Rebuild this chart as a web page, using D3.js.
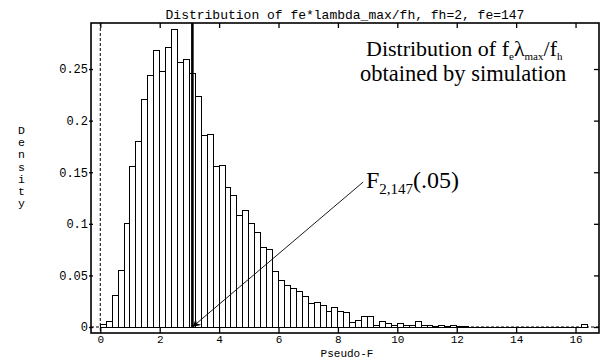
<!DOCTYPE html>
<html>
<head>
<meta charset="utf-8">
<script src="https://cdn.jsdelivr.net/npm/d3@7/dist/d3.min.js"></script>
<style>
  html, body { margin: 0; padding: 0; background: #fff; }
  svg { display: block; }
</style>
</head>
<body>
<script>
// ---- data ----
const binLefts = [
  0.0, 0.2, 0.4, 0.6, 0.8, 1.0, 1.2, 1.4, 1.6, 1.8,
  2.0, 2.2, 2.4, 2.6, 2.8, 3.0, 3.2, 3.4, 3.6, 3.8,
  4.0, 4.2, 4.4, 4.6, 4.8, 5.0, 5.2, 5.4, 5.6, 5.8,
  6.0, 6.2, 6.4, 6.6, 6.8, 7.0, 7.2, 7.4, 7.6, 7.8,
  8.0, 8.2, 8.4, 8.6, 8.8, 9.0, 9.2, 9.4, 9.6, 9.8,
  10.0, 10.2, 10.4, 10.6, 10.8, 11.0, 11.2, 11.4, 11.6, 11.8,
  12.0, 12.2, 12.4, 12.6, 12.8, 13.0, 13.2, 13.4, 13.6, 13.8,
  14.0, 14.2, 14.4, 14.6, 14.8, 15.0, 15.2, 15.4, 15.6, 15.8,
  16.0, 16.2
];
const binWidth = 0.2;
const density = [
  0.002, 0.005, 0.031, 0.055, 0.1005, 0.156, 0.1796, 0.220, 0.244, 0.268,
  0.2474, 0.2706, 0.2885, 0.256, 0.2594, 0.2458, 0.2229, 0.1854, 0.1866, 0.1555,
  0.1567, 0.1354, 0.127, 0.108, 0.1127, 0.1005, 0.0914, 0.0772, 0.0753, 0.054,
  0.0455, 0.0404, 0.037, 0.034, 0.030, 0.023, 0.024, 0.021, 0.015, 0.019,
  0.015, 0.014, 0.004, 0.006, 0.010, 0.010, 0.001, 0.005, 0.003, 0.001,
  0.003, 0.001, 0.001, 0.005, 0.0015, 0.001, 0.0005, 0.001, 0.0005, 0.001,
  0.0005, 0.0005, 0, 0, 0, 0, 0, 0, 0, 0,
  0, 0, 0, 0, 0, 0, 0, 0, 0, 0,
  0, 0.002
];
const xTicks = [0, 2, 4, 6, 8, 10, 12, 14, 16];
const yTicks = [0, 0.05, 0.1, 0.15, 0.2, 0.25];
const yTickLabels = ["0", "0.05", "0.1", "0.15", "0.2", "0.25"];
const criticalValue = 3.1;
const arrowTail = [8.85, 0.1405];
const titleText = "Distribution of fe*lambda_max/fh, fh=2, fe=147";
const xLabel = "Pseudo-F";
const yLabel = "Density";

// ---- layout ----
const W = 602, H = 360;
const pLeft = 91, pRight = 599, pTop = 23, pBottom = 333;

const x = d3.scaleLinear().domain([-0.313, 16.79]).range([pLeft, pRight]);
const y = d3.scaleLinear().domain([-0.0058, 0.2946]).range([pBottom, pTop]);

const svg = d3.select("body").append("svg")
  .attr("width", W).attr("height", H)
  .attr("viewBox", `0 0 ${W} ${H}`);

const mono = "'Liberation Mono', 'DejaVu Sans Mono', monospace";
const serif = "'Liberation Serif', 'DejaVu Serif', serif";

// dashed reference lines at x=0 and y=0
svg.append("line")
  .attr("x1", x(0)).attr("x2", x(0))
  .attr("y1", pTop).attr("y2", pBottom)
  .attr("stroke", "#000").attr("stroke-width", 1)
  .attr("stroke-dasharray", "3,2");
svg.append("line")
  .attr("x1", pLeft).attr("x2", pRight)
  .attr("y1", y(0)).attr("y2", y(0))
  .attr("stroke", "#000").attr("stroke-width", 1)
  .attr("stroke-dasharray", "3,2");

// bars
const bars = binLefts.map((b, i) => ({ x0: b, x1: b + binWidth, v: density[i] }));
svg.append("g").selectAll("path").data(bars).join("path")
  .attr("d", d => {
    const p = d3.path();
    p.moveTo(x(d.x0), y(0));
    p.lineTo(x(d.x0), y(d.v));
    p.lineTo(x(d.x1), y(d.v));
    p.lineTo(x(d.x1), y(0));
    p.closePath();
    return p.toString();
  })
  .attr("fill", "#fff")
  .attr("stroke", "#000")
  .attr("stroke-width", 1)
  .attr("shape-rendering", "crispEdges");

// critical value thick line
svg.append("line")
  .attr("x1", x(criticalValue)).attr("x2", x(criticalValue))
  .attr("y1", pTop).attr("y2", y(0))
  .attr("stroke", "#000").attr("stroke-width", 2.6);

// arrow
const defs = svg.append("defs");
defs.append("marker")
  .attr("id", "arrowhead")
  .attr("viewBox", "0 0 10 10")
  .attr("refX", 10).attr("refY", 5)
  .attr("markerWidth", 10).attr("markerHeight", 8)
  .attr("markerUnits", "userSpaceOnUse")
  .attr("orient", "auto")
  .append("path").attr("d", "M0,0 L10,5 L0,10 L3,5 Z").attr("fill", "#000");
svg.append("line")
  .attr("x1", x(arrowTail[0])).attr("y1", y(arrowTail[1]))
  .attr("x2", x(criticalValue)).attr("y2", y(0))
  .attr("stroke", "#000").attr("stroke-width", 0.9)
  .attr("marker-end", "url(#arrowhead)");

// frame
svg.append("rect")
  .attr("x", pLeft).attr("y", pTop)
  .attr("width", pRight - pLeft).attr("height", pBottom - pTop)
  .attr("fill", "none").attr("stroke", "#000").attr("stroke-width", 1.6);

// axes ticks via d3 axes
const xAxisB = d3.axisBottom(x).tickValues(xTicks).tickSize(-5).tickFormat(d3.format("d"));
const gxb = svg.append("g").attr("transform", `translate(0,${pBottom})`).call(xAxisB);
const xAxisT = d3.axisTop(x).tickValues(xTicks).tickSize(-5).tickFormat("");
const gxt = svg.append("g").attr("transform", `translate(0,${pTop})`).call(xAxisT);
const yAxisL = d3.axisLeft(y).tickValues(yTicks).tickSize(4).tickFormat((d, i) => yTickLabels[i]).tickPadding(1);
const gyl = svg.append("g").attr("transform", `translate(${pLeft + 2},0)`).call(yAxisL);
const yAxisR = d3.axisRight(y).tickValues(yTicks).tickSize(-5).tickFormat("");
const gyr = svg.append("g").attr("transform", `translate(${pRight},0)`).call(yAxisR);

[gxb, gxt, gyl, gyr].forEach(g => {
  g.select(".domain").remove();
  g.selectAll(".tick line").attr("stroke", "#000").attr("stroke-width", 1.3);
  g.selectAll("text").attr("fill", "#000").attr("font-family", mono).attr("font-size", 12);
});
gxb.selectAll("text").attr("font-size", 11).attr("y", 10).attr("dy", 0);

// title
svg.append("text")
  .attr("x", (pLeft + pRight) / 2).attr("y", 19)
  .attr("text-anchor", "middle")
  .attr("font-family", mono).attr("font-size", 13)
  .text(titleText);

// x label
svg.append("text")
  .attr("x", (pLeft + pRight) / 2 + 2).attr("y", 356.5)
  .attr("text-anchor", "middle")
  .attr("font-family", mono).attr("font-size", 11)
  .text(xLabel);

// y label stacked letters
const yl = svg.append("text")
  .attr("font-family", mono).attr("font-size", 11.5)
  .attr("text-anchor", "middle");
yLabel.split("").forEach((ch, i) => {
  yl.append("tspan").attr("x", 21.5).attr("y", 134 + i * 12.2).text(ch);
});

// annotation: distribution text
const a1 = svg.append("text")
  .attr("x", 366).attr("y", 56)
  .attr("font-family", serif).attr("font-size", 22);
a1.append("tspan").text("Distribution of f");
a1.append("tspan").attr("font-size", 11).attr("dy", 4).text("e");
a1.append("tspan").attr("dy", -4).text("λ");
a1.append("tspan").attr("font-size", 11).attr("dy", 4).text("max");
a1.append("tspan").attr("dy", -4).text("/f");
a1.append("tspan").attr("font-size", 11).attr("dy", 4).text("h");

svg.append("text")
  .attr("x", 360).attr("y", 81)
  .attr("font-family", serif).attr("font-size", 22.5)
  .text("obtained by simulation");

// F label
const fl = svg.append("text")
  .attr("x", 366).attr("y", 188)
  .attr("font-family", serif).attr("font-size", 24);
fl.append("tspan").text("F");
fl.append("tspan").attr("font-size", 15).attr("dy", 6).text("2,147");
fl.append("tspan").attr("dy", -6).text("(.05)");
</script>
</body>
</html>
